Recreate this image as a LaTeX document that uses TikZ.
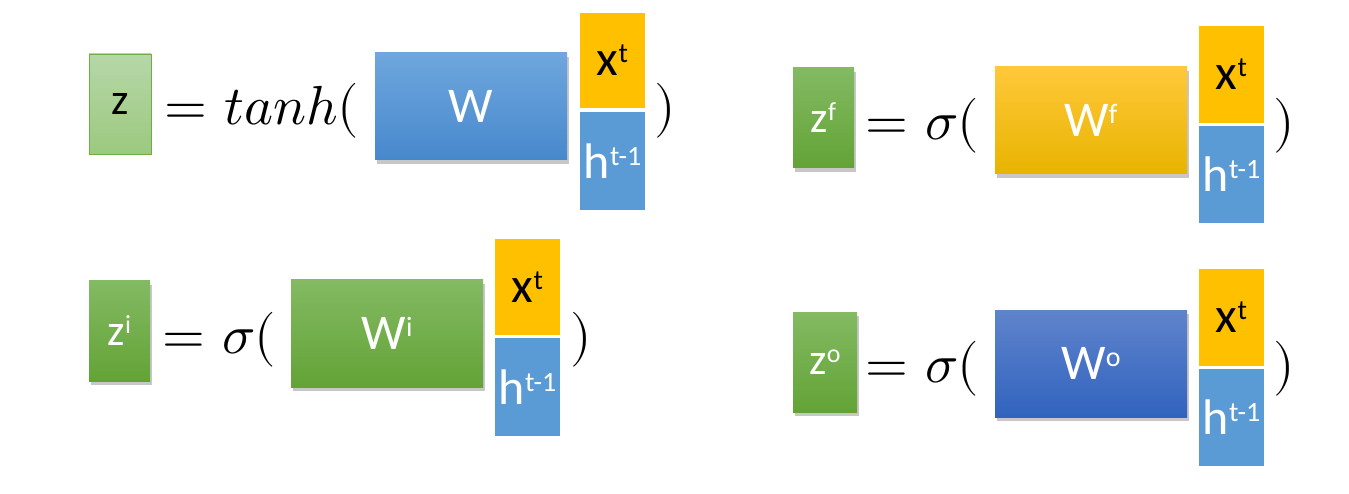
\documentclass[tikz,border=0pt]{standalone}
\usepackage{fontspec}
\usepackage{unicode-math}
\setmainfont{Carlito}
\setmathfont{Latin Modern Math}
\usetikzlibrary{shadows}
\definecolor{xorange}{HTML}{FFC000}
\definecolor{hblue}{HTML}{5B9BD5}
\definecolor{zlighttop}{HTML}{B6D7A8}
\definecolor{zlightbot}{HTML}{9CC97F}
\definecolor{zborder}{HTML}{70AD47}
\definecolor{gtop}{HTML}{83BA63}
\definecolor{gbot}{HTML}{63A336}
\definecolor{btop}{HTML}{6FA7DE}
\definecolor{bbot}{HTML}{4788CC}
\definecolor{otop}{HTML}{FFC83A}
\definecolor{obot}{HTML}{E8B400}
\definecolor{dtop}{HTML}{5F84CC}
\definecolor{dbot}{HTML}{3163BE}
\newcommand{\supbig}[1]{\raisebox{13pt}{\fontsize{28}{28}\selectfont #1}}
\newcommand{\supz}[1]{\raisebox{12pt}{\fontsize{26}{26}\selectfont #1}}
\tikzset{
  blk/.style={anchor=north west, inner sep=0pt, outer sep=0pt, text=white,
    font=\fontsize{50}{50}\selectfont},
  zblk/.style={blk, font=\fontsize{44}{44}\selectfont, minimum height=100pt},
  wblk/.style={blk, minimum width=192pt, minimum height=107pt},
  xblk/.style={blk, fill=xorange, text=black, minimum width=65pt},
  hblk/.style={blk, fill=hblue, minimum width=65pt},
  shad/.style={drop shadow={shadow xshift=2pt, shadow yshift=-4pt, opacity=0.22, fill=black}},
  mth/.style={anchor=base, inner sep=0pt, font=\fontsize{55}{60}\selectfont},
  mthw/.style={mth, anchor=base west},
}
\begin{document}
\begin{tikzpicture}[x=1pt, y=-1pt]
\useasboundingbox[fill=white] (0,0) rectangle (1349,494);
% ---- group 1: z = tanh(W [x;h])
\node[zblk, text=black, top color=zlighttop, bottom color=zlightbot, draw=zborder, line width=0.8pt, minimum width=62pt] (z1) at (89,54) {z};
\node[mth] (eq1) at (186,125) {$=$};
\node[mthw] (f1) at (224,125) {$tanh($};
\node[wblk, shad, top color=btop, bottom color=bbot] (W1) at (375,53) {W};
\node[xblk, minimum height=95pt] (x1) at (580,13) {x\supbig{t}};
\node[hblk, minimum height=98pt] (h1) at (580,112) {h\supbig{t-1}};
\node[mth] (p1) at (665,125) {$)$};
% ---- group 2: z^f
\node[zblk, shad, top color=gtop, bottom color=gbot, minimum width=61pt] (z2) at (793,68) {z\supz{f}};
\node[mth] (eq2) at (887,140) {$=$};
\node[mthw] (f2) at (925,140) {$\sigma($};
\node[wblk, shad, top color=otop, bottom color=obot] (W2) at (995,67) {W\supbig{f}};
\node[xblk, minimum height=97pt] (x2) at (1199,26) {x\supbig{t}};
\node[hblk, minimum height=97pt] (h2) at (1199,126) {h\supbig{t-1}};
\node[mth] (p2) at (1284,140) {$)$};
% ---- group 3: z^i
\node[zblk, shad, top color=gtop, bottom color=gbot, minimum width=61pt] (z3) at (89,281) {z\supz{i}};
\node[mth] (eq3) at (184,353) {$=$};
\node[mthw] (f3) at (222,353) {$\sigma($};
\node[wblk, shad, top color=gtop, bottom color=gbot] (W3) at (291,280) {W\supbig{i}};
\node[xblk, minimum height=96pt] (x3) at (495,239) {x\supbig{t}};
\node[hblk, minimum height=98pt] (h3) at (495,338) {h\supbig{t-1}};
\node[mth] (p3) at (581,353) {$)$};
% ---- group 4: z^o
\node[zblk, shad, top color=gtop, bottom color=gbot, minimum width=64pt] (z4) at (793,312) {z\supz{o}};
\node[mth] (eq4) at (887,382) {$=$};
\node[mthw] (f4) at (925,382) {$\sigma($};
\node[wblk, shad, top color=dtop, bottom color=dbot] (W4) at (995,310) {W\supbig{o}};
\node[xblk, minimum height=97pt] (x4) at (1199,269) {x\supbig{t}};
\node[hblk, minimum height=97pt] (h4) at (1199,369) {h\supbig{t-1}};
\node[mth] (p4) at (1284,382) {$)$};
\end{tikzpicture}
\end{document}
